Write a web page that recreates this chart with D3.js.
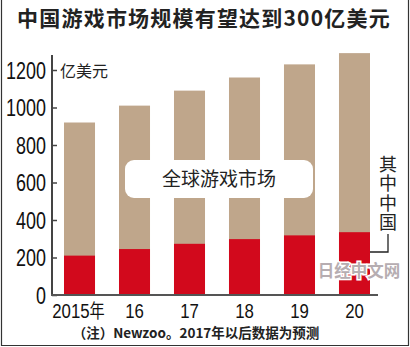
<!DOCTYPE html>
<html><head><meta charset="utf-8">
<script src="https://cdn.jsdelivr.net/npm/d3@7"></script>
<style>
html,body{margin:0;padding:0;background:#fff;}
svg{display:block;}
</style></head>
<body>
<script>
const years = ["2015年", "16", "17", "18", "19", "20"];
const globalMarket = [920, 1010, 1090, 1160, 1230, 1290];
const chinaMarket = [210, 245, 273, 298, 318, 335];
const yTicks = [0, 200, 400, 600, 800, 1000, 1200];

const W = 410, H = 347;
const svg = d3.select("body").append("svg").attr("width", W).attr("height", H);
svg.append("rect").attr("width", W).attr("height", H).attr("fill", "#fff");

// frame
svg.append("path").attr("d", `M1.5,0 V345.5 H408.5 V0`).attr("fill", "none").attr("stroke", "#333").attr("stroke-width", 1.2);

const x = d3.scaleBand().domain(years).range([53, 381]).paddingInner(0.436).paddingOuter(0.2);
const y = d3.scaleLinear().domain([0, 1200]).range([295, 70]);

const sans = "'Liberation Sans', Arial, sans-serif";
const cjk = "'Noto Sans CJK SC', sans-serif";

// title
svg.append("text").attr("x", 204).attr("y", 26).attr("text-anchor", "middle")
  .attr("font-family", cjk).attr("font-weight", "bold").attr("font-size", 21).attr("letter-spacing", 1.2).attr("fill", "#222")
  .text("中国游戏市场规模有望达到300亿美元");

// bars
const g = svg.append("g");
g.selectAll("rect.tot").data(years).enter().append("rect")
  .attr("x", d => x(d)).attr("width", x.bandwidth())
  .attr("y", (d, i) => y(globalMarket[i])).attr("height", (d, i) => y(0) - y(globalMarket[i]))
  .attr("fill", "#bfa68b");
g.selectAll("rect.cn").data(years).enter().append("rect")
  .attr("x", d => x(d)).attr("width", x.bandwidth())
  .attr("y", (d, i) => y(chinaMarket[i])).attr("height", (d, i) => y(0) - y(chinaMarket[i]))
  .attr("fill", "#d2091c");

// y axis
const yAxis = d3.axisRight(y).tickValues(yTicks).tickSize(5).tickFormat("");
const ya = svg.append("g").attr("transform", "translate(52,0)").call(yAxis);
ya.select(".domain").remove();
ya.selectAll("line").attr("stroke", "#444").attr("stroke-width", 1.5);
svg.append("line").attr("x1", 52).attr("x2", 52).attr("y1", 55).attr("y2", 296).attr("stroke", "#444").attr("stroke-width", 2);
svg.selectAll("text.yl").data(yTicks).enter().append("text")
  .attr("transform", d => `translate(46,${y(d) + 8.5}) scale(0.78,1)`).attr("text-anchor", "end")
  .attr("font-family", sans).attr("font-size", 23).attr("fill", "#111").text(d => d);

// x axis
svg.append("line").attr("x1", 51).attr("x2", 378).attr("y1", 295).attr("y2", 295).attr("stroke", "#555").attr("stroke-width", 2);
const xa = svg.append("g").attr("transform", "translate(0,295)").call(d3.axisBottom(x).tickSize(0).tickFormat(""));
xa.select(".domain").remove();
svg.selectAll("text.xl").data(years).enter().append("text")
  .attr("transform", d => `translate(${x(d) + x.bandwidth() / 2 + (d === "2015年" ? -1 : 0)},318) scale(0.8,1)`)
  .attr("text-anchor", "middle")
  .attr("font-family", sans).attr("font-size", 21).attr("fill", "#111")
  .each(function(d) {
    const t = d3.select(this);
    if (d.endsWith("年")) {
      t.append("tspan").text(d.slice(0, -1));
      t.append("tspan").attr("font-family", cjk).attr("font-size", 19).text("年");
    } else t.text(d);
  });

// unit
svg.append("text").attr("x", 60).attr("y", 77).attr("font-family", cjk).attr("font-size", 16).attr("fill", "#222").text("亿美元");

// legend box
svg.append("rect").attr("x", 125).attr("y", 160).attr("width", 188).attr("height", 38).attr("rx", 9).attr("fill", "#fff");
svg.append("text").attr("x", 219).attr("y", 186).attr("text-anchor", "middle")
  .attr("font-family", cjk).attr("font-size", 19).attr("fill", "#222").text("全球游戏市场");

// China label vertical
svg.append("text").attr("x", 388).attr("y", 155)
  .attr("writing-mode", "vertical-rl").attr("letter-spacing", 1.5)
  .attr("font-family", cjk).attr("font-size", 18).attr("fill", "#222").text("其中中国");
svg.append("path").attr("d", "M388,234 V252 H370").attr("fill", "none").attr("stroke", "#222").attr("stroke-width", 1.3);

// watermark
svg.append("text").attr("x", 359).attr("y", 277).attr("text-anchor", "middle")
  .attr("font-family", cjk).attr("font-weight", "bold").attr("font-size", 16.5)
  .attr("fill", "#b6adb1").attr("stroke", "#fff").attr("stroke-width", 3).attr("paint-order", "stroke")
  .text("日经中文网");

// footnote
svg.append("text").attr("x", 196).attr("y", 338).attr("text-anchor", "middle")
  .attr("font-family", cjk).attr("font-weight", "bold").attr("font-size", 13.5).attr("fill", "#222")
  .text("（注）Newzoo。2017年以后数据为预测");
</script>
</body></html>
